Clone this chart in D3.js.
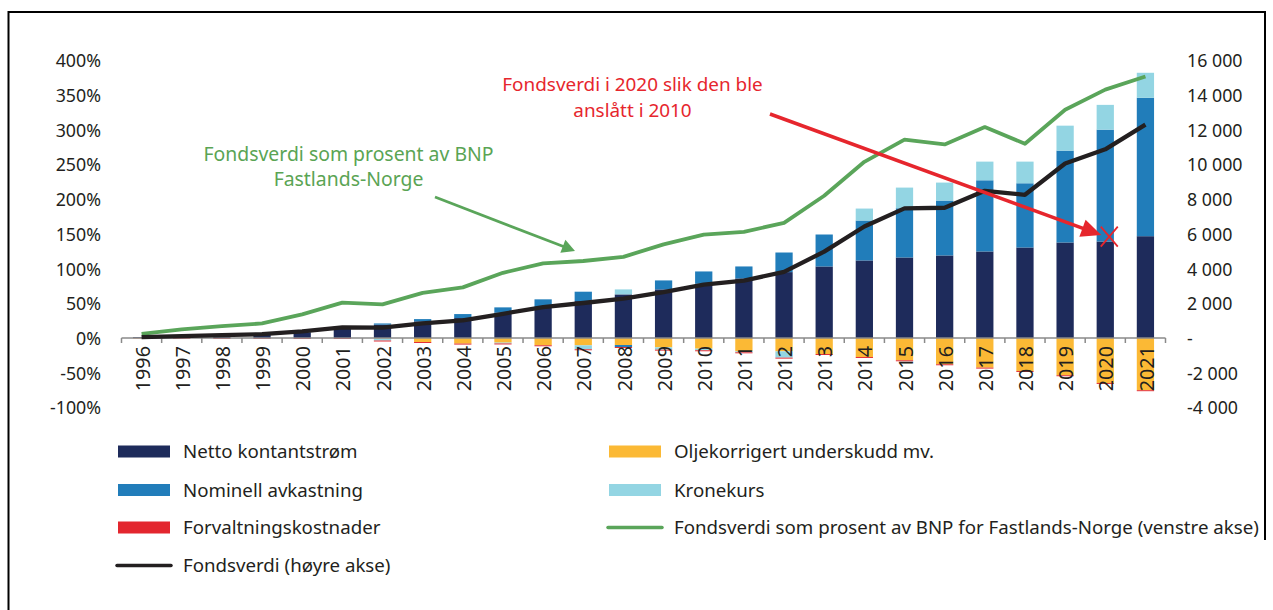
<!DOCTYPE html>
<html>
<head>
<meta charset="utf-8">
<script src="https://cdn.jsdelivr.net/npm/d3@7"></script>
<style>
  html, body { margin: 0; padding: 0; background: #ffffff; }
  svg { display: block; font-family: "Noto Sans", "Open Sans", sans-serif; }
</style>
</head>
<body>
<script>
// ---------------- DATA ----------------
const years = ["1996","1997","1998","1999","2000","2001","2002","2003","2004","2005","2006","2007","2008","2009","2010","2011","2012","2013","2014","2015","2016","2017","2018","2019","2020","2021"];
// milliarder kroner (høyre akse)
const nettoKontantstrom       = [45, 100, 150, 190, 330, 610, 770, 961, 1151, 1462, 1750, 2130, 2515, 2803, 3130, 3436, 3800, 4126, 4472, 4644, 4760, 4990, 5220, 5508, 5565, 5870];
const nominellAvkastning      = [3, 10, 20, 35, 55, 50, 70, 130, 230, 305, 480, 540, -115, 518, 708, 690, 1130, 1842, 2302, 2837, 3165, 4104, 3702, 5295, 6447, 7982];
const kronekurs               = [0, 10, 25, 20, 30, 20, -115, 0, 0, -50, 0, -230, 288, -134, -96, -58, -365, 0, 690, 1192, 1036, 1076, 1248, 1440, 1430, 1440];
const oljekorrigertUnderskudd = [-15, 0, 0, 0, 0, 0, -30, -230, -322, -265, -420, -420, -403, -537, -612, -767, -767, -921, -1093, -1285, -1515, -1707, -1899, -2148, -2590, -3010];
const forvaltningskostnader   = [-10, -45, -45, -45, -50, -50, -55, -55, -55, -55, -55, -55, -55, -55, -55, -55, -55, -55, -55, -55, -55, -55, -55, -55, -55, -55];
const fondsverdi              = [48, 113, 172, 222, 386, 614, 604, 846, 1016, 1399, 1784, 2019, 2275, 2640, 3077, 3312, 3816, 4980, 6431, 7475, 7510, 8488, 8256, 10060, 10880, 12300];
// prosent (venstre akse)
const fondsverdiProsentBNP    = [6, 12.5, 17, 21, 34, 51, 48.5, 65, 73, 94, 107.5, 111, 117, 135, 149, 153, 166, 205, 254, 286, 279, 304, 280, 329, 358, 377];
// anslag fra 2010 for fondsverdien i 2020
const anslagAar = "2020";
const anslagVerdi = 5850;

const leftTicks = [-100, -50, 0, 50, 100, 150, 200, 250, 300, 350, 400];
const leftTickLabels = ["-100%", "-50%", "0%", "50%", "100%", "150%", "200%", "250%", "300%", "350%", "400%"];
const rightTicks = [-4000, -2000, 0, 2000, 4000, 6000, 8000, 10000, 12000, 14000, 16000];
const rightTickLabels = ["-4 000", "-2 000", "-", "2 000", "4 000", "6 000", "8 000", "10 000", "12 000", "14 000", "16 000"];

const seriesKeys = ["olje", "netto", "nominell", "krone", "kost"];
const seriesNames = {
  netto: "Netto kontantstrøm",
  nominell: "Nominell avkastning",
  kost: "Forvaltningskostnader",
  olje: "Oljekorrigert underskudd mv.",
  krone: "Kronekurs"
};
const colors = {
  netto: "#1e2b5b",
  nominell: "#217dba",
  krone: "#93d5e3",
  olje: "#fbb935",
  kost: "#e3262e",
  green: "#5aa55a",
  black: "#231f20",
  red: "#e6262d"
};

// ---------------- CHART ----------------
const W = 1273, H = 610;
const svg = d3.select("body").append("svg").attr("width", W).attr("height", H);

// frame
svg.append("path")
  .attr("d", "M8.5,610 L8.5,12 L1265,12 L1265,540")
  .attr("fill", "none").attr("stroke", "#000").attr("stroke-width", 2);

const x = d3.scaleBand().domain(years).range([121.5, 1165.5]).padding(0);
const bw = x.bandwidth();
const barW = bw * 0.43;
const cx = y => x(y) + bw / 2;

const yR = d3.scaleLinear().domain([-4000, 16000]).range([407.4, 60.5]);
const yL = d3.scaleLinear().domain([-100, 400]).range([407.4, 60.5]);

const rows = years.map((yr, i) => ({
  year: yr,
  netto: nettoKontantstrom[i],
  nominell: nominellAvkastning[i],
  krone: kronekurs[i],
  olje: oljekorrigertUnderskudd[i],
  kost: forvaltningskostnader[i]
}));

const stack = d3.stack().keys(seriesKeys).offset(d3.stackOffsetDiverging);
const stacked = stack(rows);

const barsG = svg.append("g");
stacked.forEach(s => {
  barsG.append("g").attr("fill", colors[s.key])
    .selectAll("rect").data(s).join("rect")
    .attr("x", d => cx(d.data.year) - barW / 2)
    .attr("width", barW)
    .attr("y", d => yR(Math.max(d[0], d[1])))
    .attr("height", d => Math.abs(yR(d[0]) - yR(d[1])));
});

// x axis line and boundary ticks
const y0 = yR(0);
const axisG = svg.append("g").attr("stroke", "#8a8a8a").attr("stroke-width", 1.5);
axisG.append("line").attr("x1", x.range()[0]).attr("x2", x.range()[1]).attr("y1", y0).attr("y2", y0);
const bounds = years.map(y => x(y)).concat([x.range()[1]]);
axisG.selectAll("line.t").data(bounds).join("line").attr("class", "t")
  .attr("x1", d => d).attr("x2", d => d).attr("y1", y0).attr("y2", y0 + 5);

// lines
const line = d3.line();
svg.append("path")
  .attr("d", line(years.map((y, i) => [cx(y), yL(fondsverdiProsentBNP[i])])))
  .attr("fill", "none").attr("stroke", colors.green).attr("stroke-width", 3.8).attr("stroke-linejoin", "round");
svg.append("path")
  .attr("d", line(years.map((y, i) => [cx(y), yR(fondsverdi[i])])))
  .attr("fill", "none").attr("stroke", colors.black).attr("stroke-width", 4.3).attr("stroke-linejoin", "round");

// year labels
svg.append("g").selectAll("text").data(years).join("text")
  .attr("transform", d => `translate(${cx(d) + 1},${y0 + 8}) rotate(-90)`)
  .attr("text-anchor", "end").attr("dy", "0.36em")
  .attr("font-size", 19.8).attr("fill", "#231f20")
  .text(d => d);

// y axes
const gl = svg.append("g").attr("transform", "translate(101,0)")
  .call(d3.axisLeft(yL).tickValues(leftTicks).tickFormat((d, i) => leftTickLabels[i]).tickSize(0).tickPadding(0));
const gr = svg.append("g").attr("transform", "translate(1187,0)")
  .call(d3.axisRight(yR).tickValues(rightTicks).tickFormat((d, i) => rightTickLabels[i]).tickSize(0).tickPadding(0));
[gl, gr].forEach(g => {
  g.select(".domain").remove();
  g.selectAll("text").attr("font-size", 17.8).attr("font-family", "Noto Sans").attr("fill", "#231f20").attr("dy", "0.36em");
});

// arrow helper
function arrow(x1, y1, x2, y2, color, sw, headLen, headHalf) {
  const ang = Math.atan2(y2 - y1, x2 - x1);
  const bx = x2 - headLen * Math.cos(ang), by = y2 - headLen * Math.sin(ang);
  svg.append("line").attr("x1", x1).attr("y1", y1).attr("x2", bx + 2 * Math.cos(ang)).attr("y2", by + 2 * Math.sin(ang))
    .attr("stroke", color).attr("stroke-width", sw);
  const px = -Math.sin(ang), py = Math.cos(ang);
  svg.append("path")
    .attr("d", `M${x2},${y2} L${bx + px * headHalf},${by + py * headHalf} L${bx - px * headHalf},${by - py * headHalf} Z`)
    .attr("fill", color);
}

// green annotation
const gText = svg.append("text").attr("text-anchor", "middle").attr("fill", "#5aa454").attr("font-size", 19.4);
gText.append("tspan").attr("x", 348.5).attr("y", 161).text("Fondsverdi som prosent av BNP");
gText.append("tspan").attr("x", 348.5).attr("y", 186).text("Fastlands-Norge");
arrow(435, 197, 575, 251, colors.green, 2.8, 13, 7);

// red annotation
const rText = svg.append("text").attr("text-anchor", "middle").attr("fill", colors.red).attr("font-size", 18.9);
rText.append("tspan").attr("x", 632.5).attr("y", 91).text("Fondsverdi i 2020 slik den ble");
rText.append("tspan").attr("x", 632.5).attr("y", 117).text("anslått i 2010");
const xX = cx(anslagAar) + 4, yX = yR(anslagVerdi);
arrow(770, 114, xX - 8, yX - 1.5, colors.red, 3.5, 20, 9);
svg.append("path")
  .attr("d", `M${xX - 8.5},${yX - 10} L${xX + 8.5},${yX + 10} M${xX + 8.5},${yX - 10} L${xX - 8.5},${yX + 10}`)
  .attr("stroke", colors.red).attr("stroke-width", 1.8).attr("fill", "none");

// legend
const legendItems = [
  { key: "netto", type: "rect", x: 118, y: 451.5 },
  { key: "nominell", type: "rect", x: 118, y: 490 },
  { key: "kost", type: "rect", x: 118, y: 527.5 },
  { key: "black", type: "line", x: 118, y: 565.5, label: "Fondsverdi (høyre akse)" },
  { key: "olje", type: "rect", x: 609, y: 451.5 },
  { key: "krone", type: "rect", x: 609, y: 490 },
  { key: "green", type: "line", x: 609, y: 527.5, label: "Fondsverdi som prosent av BNP for Fastlands-Norge (venstre akse)" }
];
const lg = svg.append("g");
legendItems.forEach(it => {
  if (it.type === "rect") {
    lg.append("rect").attr("x", it.x).attr("y", it.y - 6).attr("width", 52).attr("height", 12).attr("fill", colors[it.key]);
  } else {
    lg.append("line").attr("x1", it.x - 1).attr("x2", it.x + 53).attr("y1", it.y).attr("y2", it.y)
      .attr("stroke", colors[it.key]).attr("stroke-width", 3.5).attr("stroke-linecap", "round");
  }
  lg.append("text").attr("x", it.x + 65).attr("y", it.y).attr("dy", "0.36em")
    .attr("font-size", 18.7).attr("fill", "#231f20")
    .text(it.label || seriesNames[it.key]);
});
</script>
</body>
</html>
